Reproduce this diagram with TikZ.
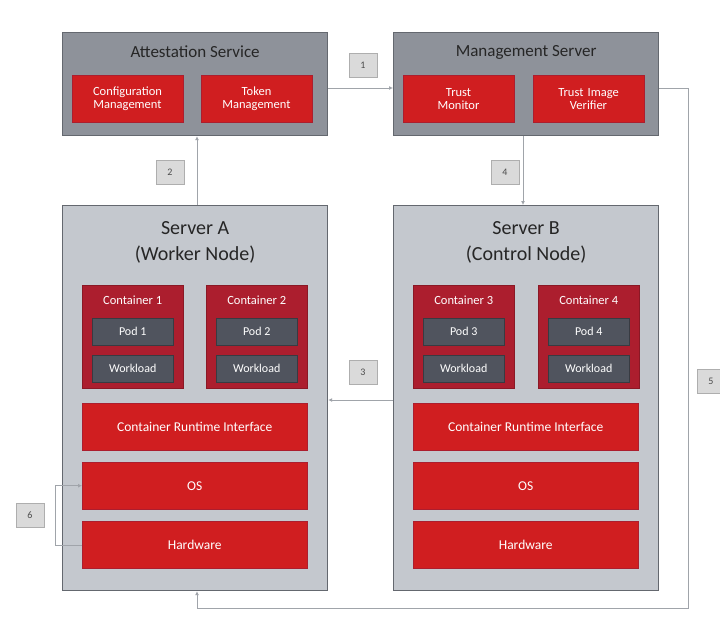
\documentclass[tikz,border=0pt]{standalone}
\usepackage{fontspec}
\setmainfont{Carlito}
\usetikzlibrary{arrows.meta,positioning}
\usepackage{xcolor}
\definecolor{cajaservicio}{RGB}{142,146,154}
\definecolor{cajaservidor}{RGB}{196,200,206}
\definecolor{bordecaja}{RGB}{100,104,111}
\definecolor{rojobarra}{RGB}{208,30,32}
\definecolor{rojocont}{RGB}{172,30,46}
\definecolor{grispod}{RGB}{80,84,94}
\definecolor{etiqueta}{RGB}{218,218,218}
\definecolor{linea}{RGB}{160,164,170}
\tikzset{
  servicio/.style={draw=bordecaja, fill=cajaservicio, line width=1.2pt, anchor=north west,
        minimum width=265pt, minimum height=103pt},
  servidor/.style={draw=bordecaja, fill=cajaservidor, line width=1.2pt, anchor=north west,
        minimum width=265pt, minimum height=385pt},
  titulo/.style={font=\fontsize{17}{19}\selectfont, text=black!85, align=center},
  modulo/.style={draw=rojocont, fill=rojobarra, anchor=north west, minimum width=110pt,
        minimum height=47pt, text width=104pt, align=center, text=white,
        font=\fontsize{12.5}{13}\selectfont},
  barra/.style={draw=rojocont, fill=rojobarra, anchor=north west, minimum width=225pt,
        minimum height=47pt, text=white, font=\fontsize{13.5}{15}\selectfont},
  contbox/.style={draw=rojocont!80!black, fill=rojocont, anchor=north west,
        minimum width=101pt, minimum height=103pt},
  podbox/.style={draw=grispod!70!black, fill=grispod, minimum width=81pt, minimum height=27pt,
        text=white, font=\fontsize{12}{13}\selectfont},
  paso/.style={draw=etiqueta!80!black, fill=etiqueta, minimum width=28pt, minimum height=24pt,
        inner sep=0pt, font=\fontsize{10}{11}\selectfont, text=black!70},
  flecha/.style={draw=linea, line width=0.8pt, -{Latex[length=4pt,width=4pt]}}
}
\newcommand{\contenedor}[4]{%
  \node[contbox] (#1) at (#2,#3) {};
  \node[text=white, font=\fontsize{12.5}{13}\selectfont] (#1t) at ([yshift=-15pt]#1.north) {Container #4};
  \node[podbox, below=33pt of #1.north] (#1p) {Pod #4};
  \node[podbox, below=70pt of #1.north] (#1w) {Workload};
}

\begin{document}
\begin{tikzpicture}[x=1pt, y=-1pt]
\useasboundingbox[fill=white] (0,0) rectangle (720,618);

% servicios
\node[servicio] (Atestacion) at (62,32) {};
\node[titulo] at ([yshift=-20pt]Atestacion.north) {Attestation Service};
\node[modulo] (ConfigMgmt) at (72,75) {Configuration\\Management};
\node[modulo] (TokenMgmt) at (201,75) {Token\\Management};

\node[servicio] (Gestion) at (393,32) {};
\node[titulo] at ([yshift=-20pt]Gestion.north) {Management Server};
\node[modulo] (TrustMon) at (403,75) {Trust\\Monitor};
\node[modulo] (TrustImg) at (533,75) {Trust Image\\Verifier};

% servidores
\node[servidor] (ServidorA) at (62,205) {};
\node[titulo, font=\fontsize{20}{26}\selectfont] at ([yshift=-37pt]ServidorA.north) {Server A\\(Worker Node)};
\contenedor{ContA1}{82}{285}{1}
\contenedor{ContA2}{206}{285}{2}
\node[barra] (RuntimeA) at (82,403) {Container Runtime Interface};
\node[barra] (OSA) at (82,462) {OS};
\node[barra] (HardwareA) at (82,521) {Hardware};

\node[servidor] (ServidorB) at (393,205) {};
\node[titulo, font=\fontsize{20}{26}\selectfont] at ([yshift=-37pt]ServidorB.north) {Server B\\(Control Node)};
\contenedor{ContB3}{413}{285}{3}
\contenedor{ContB4}{538}{285}{4}
\node[barra] (RuntimeB) at (413,403) {Container Runtime Interface};
\node[barra] (OSB) at (413,462) {OS};
\node[barra] (HardwareB) at (413,521) {Hardware};

% conexiones
\coordinate (esqA) at (688,88);
\coordinate (esqB) at (688,608);
\coordinate (esqC) at (197,608);
\coordinate (esqD) at (55,545);
\draw[flecha] (Atestacion.east |- 0,88) -- (Gestion.west |- 0,88);
\draw[flecha] (ServidorA.north -| 197,0) -- (Atestacion.south -| 197,0);
\draw[flecha] (Gestion.south -| 523,0) -- (ServidorB.north -| 523,0);
\draw[flecha] (ServidorB.west |- 0,400) -- (ServidorA.east |- 0,400);
\draw[flecha] (Gestion.east |- esqA) -- (esqA) -- (esqB) -- (esqC) -- (ServidorA.south -| esqC);
\draw[flecha] (HardwareA.west |- esqD) -- (esqD) |- (OSA.west);

% pasos
\node[paso] (paso1) at (363,65) {1};
\node[paso] (paso2) at (170,172) {2};
\node[paso] (paso4) at (505,172) {4};
\node[paso] (paso3) at (363,372) {3};
\node[paso] (paso5) at (711,381) {5};
\node[paso] (paso6) at (30,515) {6};

\end{tikzpicture}
\end{document}
